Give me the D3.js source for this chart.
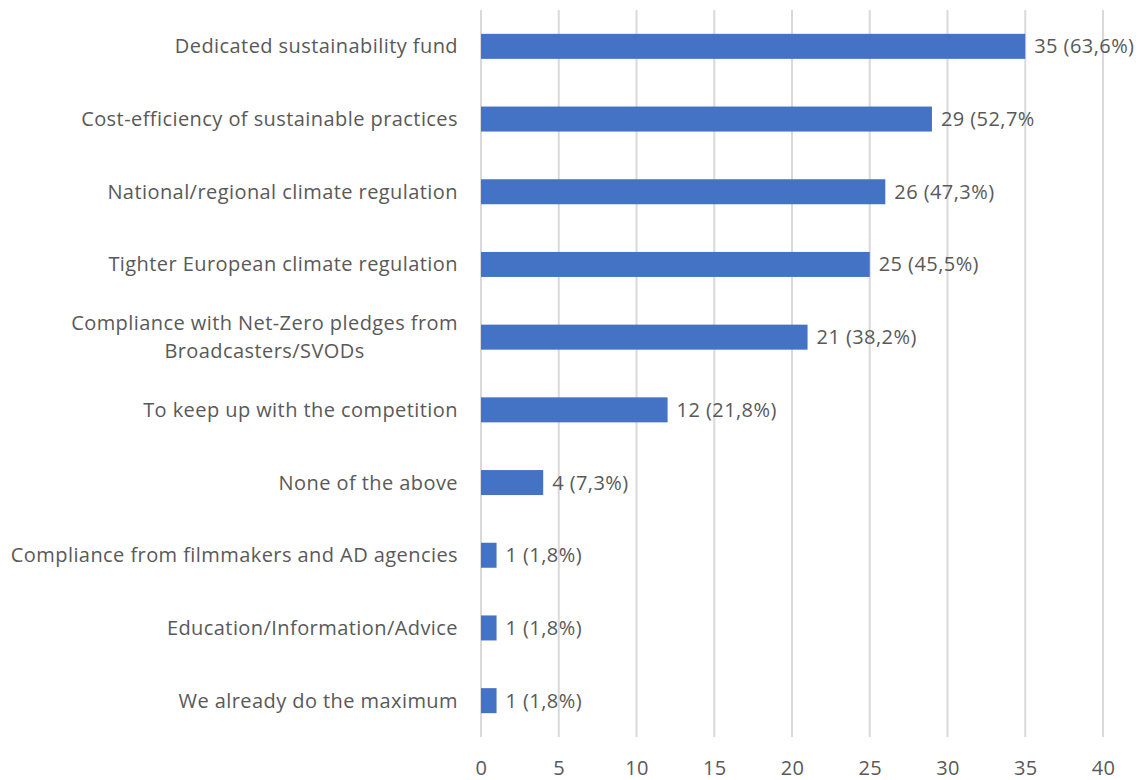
<!DOCTYPE html>
<html>
<head>
<meta charset="utf-8">
<script src="https://cdn.jsdelivr.net/npm/d3@7"></script>
<style>
  body { margin: 0; background: #fff; }
  svg { display: block; }
  text { font-family: "Open Sans", "Noto Sans", sans-serif; fill: #595959; font-size: 20px; letter-spacing: 0.43px; }
</style>
</head>
<body>
<svg id="chart" width="1141" height="780"></svg>
<script>
// Reasons that would motivate more sustainable practices (count of respondents)
const categories = [
  "Dedicated sustainability fund",
  "Cost-efficiency of sustainable practices",
  "National/regional climate regulation",
  "Tighter European climate regulation",
  "Compliance with Net-Zero pledges from Broadcasters/SVODs",
  "To keep up with the competition",
  "None of the above",
  "Compliance from filmmakers and AD agencies",
  "Education/Information/Advice",
  "We already do the maximum"
];
const counts = [35, 29, 26, 25, 21, 12, 4, 1, 1, 1];
const valueLabels = [
  "35 (63,6%)", "29 (52,7%", "26 (47,3%)", "25 (45,5%)", "21 (38,2%)",
  "12 (21,8%)", "4 (7,3%)", "1 (1,8%)", "1 (1,8%)", "1 (1,8%)"
];
// Category labels that wrap onto two lines
const wrappedLabels = {
  "Compliance with Net-Zero pledges from Broadcasters/SVODs":
    ["Compliance with Net-Zero pledges from", "Broadcasters/SVODs"]
};
const xTicks = [0, 5, 10, 15, 20, 25, 30, 35, 40];

const svg = d3.select("#chart");
const margin = { left: 481, right: 38, top: 10, bottom: 43 };
const width = 1141, height = 780;

const x = d3.scaleLinear().domain([0, 40]).range([margin.left, width - margin.right]);
const y = d3.scaleBand().domain(categories)
  .range([margin.top, height - margin.bottom]).paddingInner(0.656).paddingOuter(0.328);

// vertical gridlines
svg.append("g").selectAll("line").data(xTicks).join("line")
  .attr("x1", d => x(d)).attr("x2", d => x(d))
  .attr("y1", margin.top).attr("y2", height - margin.bottom)
  .attr("stroke", "#d9d9d9").attr("stroke-width", 2);

// x axis tick labels
const xAxis = d3.axisBottom(x).tickValues(xTicks).tickSize(0).tickPadding(0);
const gx = svg.append("g").attr("transform", `translate(0,${height - margin.bottom})`).call(xAxis);
gx.select(".domain").remove();
gx.attr("font-family", null).attr("font-size", null);
gx.selectAll("text").attr("dy", null).attr("y", 38).attr("fill", "#595959");

// bars
svg.append("g").selectAll("rect").data(categories).join("rect")
  .attr("x", x(0)).attr("y", d => y(d))
  .attr("width", (d, i) => x(counts[i]) - x(0))
  .attr("height", y.bandwidth())
  .attr("fill", "#4472C4");

// value labels
svg.append("g").selectAll("text").data(categories).join("text")
  .attr("x", (d, i) => x(counts[i]) + 9)
  .attr("y", d => y(d) + y.bandwidth() / 2)
  .attr("dy", "0.35em")
  .text((d, i) => valueLabels[i]);

// category labels
const cat = svg.append("g").selectAll("text").data(categories).join("text")
  .attr("text-anchor", "middle")
  .attr("x", 0)
  .attr("y", d => y(d) + y.bandwidth() / 2);
cat.each(function (d) {
  const lines = wrappedLabels[d] || [d];
  const t = d3.select(this);
  const lh = 28;
  lines.forEach((ln, k) => {
    t.append("tspan").attr("x", 0)
      .attr("y", y(d) + y.bandwidth() / 2 + (k - (lines.length - 1) / 2) * lh)
      .attr("dy", "0.35em").text(ln);
  });
});
// right-align each label block, centering wrapped lines within it
cat.each(function (d) {
  const t = d3.select(this);
  const w = this.getBBox().width;
  t.selectAll("tspan").attr("x", 458 - w / 2);
});
</script>
</body>
</html>
